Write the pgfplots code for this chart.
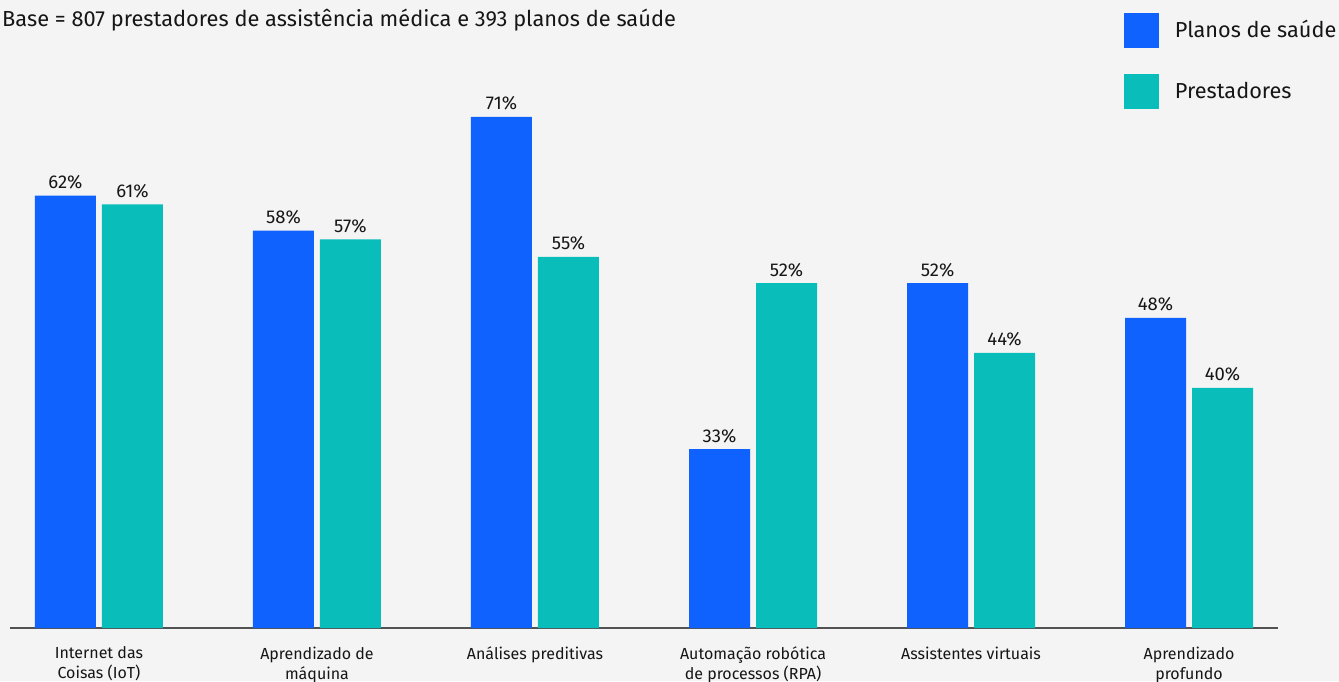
\documentclass[border=0pt]{standalone}
\usepackage{fontspec}
\setmainfont{Fira Sans}
\usepackage{pgfplots}
\pgfplotsset{compat=1.18}
\definecolor{bgc}{HTML}{F4F4F4}
\definecolor{cblue}{HTML}{0F62FE}
\definecolor{cteal}{HTML}{08BDBA}
\definecolor{ctext}{HTML}{161616}
\definecolor{caxis}{HTML}{525252}
\begin{document}
\begin{tikzpicture}[x=1pt,y=1pt]
\path[use as bounding box, fill=bgc] (0,0) rectangle (1339,681);
\begin{axis}[
  at={(10pt,53pt)}, anchor=south west,
  scale only axis, width=1268pt, height=589.7pt,
  xmin=-0.408, xmax=5.408, ymin=12.53, ymax=80,
  ybar=6pt, bar width=61pt,
  axis x line*=bottom, hide y axis,
  x axis line style={draw=caxis, line width=2pt, -},
  xtick={0,1,2,3,4,5},
  xticklabels={Internet das\\Coisas (IoT), Aprendizado de\\máquina, Análises preditivas, Automação robótica\\de processos (RPA), Assistentes virtuais, Aprendizado\\profundo},
  major tick length=0pt,
  xticklabel style={font=\fontsize{16}{20}\selectfont, text=ctext, align=center, anchor=north, inner sep=0pt, yshift=-18.5pt},
  /pgf/number format/assume math mode=true,
  nodes near coords={\pgfmathprintnumber{\pgfplotspointmeta}\%},
  every node near coord/.append style={font=\fontsize{18.5}{18.5}\selectfont, text=ctext, anchor=base, inner sep=0pt, yshift=7pt},
  legend style={at={(axis description cs:0.8785,1.0429)}, anchor=north west, draw=none, fill=none, inner sep=0pt, outer sep=0pt, font=\fontsize{21.7}{21.7}\selectfont, text=ctext, row sep=26pt, legend cell align=left, nodes={inner sep=0pt, text height=14.8pt, text depth=0pt}},
  legend image code/.code={\fill[#1, draw=none] (0pt,-17.5pt) rectangle (35pt,17.5pt); \path (51pt,0pt);},
]
\addplot[fill=cblue, draw=none] coordinates {(0,62) (1,58) (2,71) (3,33) (4,52) (5,48)};
\addlegendentry{Planos de saúde}
\addplot[fill=cteal, draw=none] coordinates {(0,61) (1,57) (2,55) (3,52) (4,44) (5,40)};
\addlegendentry{Prestadores}
\end{axis}
\node[anchor=base west, inner sep=0pt, font=\fontsize{21.8}{21.8}\selectfont, text=ctext] at (2,654.5) {Base = 807 prestadores de assistência médica e 393 planos de saúde};
\end{tikzpicture}
\end{document}
